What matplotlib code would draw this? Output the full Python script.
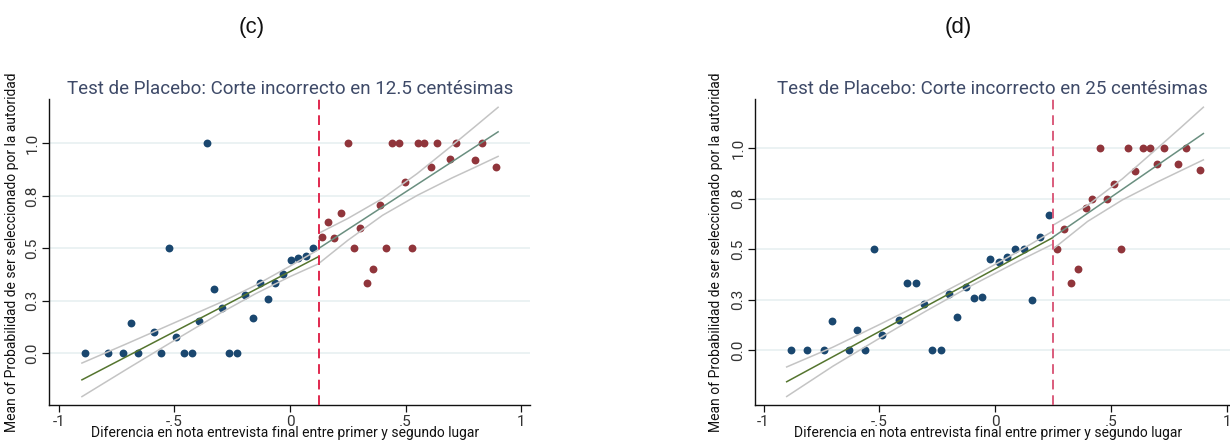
import numpy as np
import matplotlib
matplotlib.use("Agg")
import matplotlib.pyplot as plt

# Binned means, panel (c): placebo cutoff at 0.125
c_cut = 0.125
c_left_x = [-0.886, -0.789, -0.722, -0.689, -0.656, -0.589, -0.558, -0.523, -0.491, -0.460,
            -0.425, -0.393, -0.360, -0.327, -0.294, -0.262, -0.228, -0.195, -0.161, -0.128,
            -0.096, -0.063, -0.030, 0.003, 0.036, 0.069, 0.101]
c_left_y = [0.0, 0.0, 0.0, 0.143, 0.0, 0.100, 0.0, 0.5, 0.079, 0.0,
            0.0, 0.153, 1.0, 0.308, 0.216, 0.0, 0.0, 0.275, 0.167, 0.334,
            0.258, 0.334, 0.377, 0.445, 0.456, 0.461, 0.5]
c_right_x = [0.137, 0.166, 0.192, 0.220, 0.249, 0.275, 0.304, 0.332, 0.359, 0.388,
             0.415, 0.442, 0.470, 0.499, 0.526, 0.552, 0.581, 0.608, 0.635, 0.692,
             0.719, 0.802, 0.829, 0.889]
c_right_y = [0.556, 0.625, 0.550, 0.668, 1.0, 0.5, 0.599, 0.334, 0.401, 0.706,
             0.5, 1.0, 1.0, 0.814, 0.5, 1.0, 1.0, 0.886, 1.0, 0.925,
             1.0, 0.922, 1.0, 0.889]

# linear fits and 95% CI, panel (c)
c_fitL_x = [-0.9, 0.125]
c_fitL_y = [-0.127, 0.461]
c_ciL_x = [-0.9, -0.7, -0.5, -0.3, -0.15, 0.0, 0.125]
c_ciL_hi = [-0.047, 0.048, 0.145, 0.242, 0.323, 0.415, 0.495]
c_ciL_lo = [-0.207, -0.072, 0.061, 0.192, 0.283, 0.365, 0.427]
c_fitR_x = [0.125, 0.9]
c_fitR_y = [0.500, 1.055]
c_ciR_x = [0.125, 0.25, 0.4, 0.55, 0.7, 0.8, 0.9]
c_ciR_hi = [0.572, 0.642, 0.737, 0.856, 0.989, 1.080, 1.172]
c_ciR_lo = [0.428, 0.538, 0.657, 0.752, 0.835, 0.886, 0.938]

# Binned means, panel (d): placebo cutoff at 0.25
d_cut = 0.25
d_left_x = [-0.883, -0.811, -0.739, -0.704, -0.631, -0.596, -0.560, -0.524, -0.488, -0.416,
            -0.380, -0.343, -0.307, -0.271, -0.235, -0.199, -0.163, -0.127, -0.091, -0.055,
            -0.020, 0.016, 0.052, 0.088, 0.124, 0.160, 0.196, 0.232]
d_left_y = [0.0, 0.0, 0.0, 0.143, 0.0, 0.100, 0.0, 0.5, 0.077, 0.150,
            0.333, 0.333, 0.228, 0.0, 0.0, 0.277, 0.167, 0.312, 0.257, 0.266,
            0.453, 0.437, 0.460, 0.5, 0.5, 0.249, 0.559, 0.667]
d_right_x = [0.267, 0.297, 0.328, 0.359, 0.391, 0.421, 0.452, 0.483, 0.514, 0.545,
             0.576, 0.606, 0.638, 0.668, 0.700, 0.730, 0.792, 0.824, 0.884]
d_right_y = [0.5, 0.600, 0.333, 0.401, 0.704, 0.750, 1.0, 0.750, 0.823, 0.5,
             1.0, 0.888, 1.0, 1.0, 0.921, 1.0, 0.922, 1.0, 0.889]

d_fitL_x = [-0.9, 0.25]
d_fitL_y = [-0.155, 0.557]
d_ciL_x = [-0.9, -0.7, -0.5, -0.3, -0.1, 0.1, 0.25]
d_ciL_hi = [-0.082, 0.016, 0.127, 0.241, 0.361, 0.488, 0.589]
d_ciL_lo = [-0.228, -0.078, 0.059, 0.193, 0.321, 0.440, 0.525]
d_fitR_x = [0.25, 0.9]
d_fitR_y = [0.559, 1.071]
d_ciR_x = [0.25, 0.4, 0.55, 0.7, 0.8, 0.9]
d_ciR_hi = [0.618, 0.717, 0.847, 0.997, 1.098, 1.201]
d_ciR_lo = [0.500, 0.637, 0.743, 0.831, 0.886, 0.941]

xticks = [-1, -0.5, 0, 0.5, 1]
xtick_labels = ["-1", "-.5", "0", ".5", "1"]
yticks = [0, 0.25, 0.5, 0.75, 1.0]
ytick_labels = ["0.0", "0.3", "0.5", "0.8", "1.0"]

titles = ["Test de Placebo: Corte incorrecto en 12.5 centésimas",
          "Test de Placebo: Corte incorrecto en 25 centésimas"]
panel_tags = ["(c)", "(d)"]
xlab = "Diferencia en nota entrevista final entre primer y segundo lugar"
ylab = "Mean of Probabilidad de ser seleccionado por la autoridad"

blue = "#1a476f"
red = "#90353b"
fit_left_col = "#55752f"
fit_right_col = "#6a8f80"
ci_col = "#c4c4c4"
title_col = "#3e4a68"

plt.rcParams['font.family'] = ['Roboto', 'DejaVu Sans']
plt.rcParams['font.weight'] = 'light'

fig = plt.figure(figsize=(12.3, 4.41), dpi=100)

panels = [
    dict(pos=[0.0401, 0.0816, 0.3908, 0.6932], xlim=(-1.041, 1.038), ylim=(-0.247, 1.21),
         cut=c_cut, lx=c_left_x, ly=c_left_y, rx=c_right_x, ry=c_right_y,
         fLx=c_fitL_x, fLy=c_fitL_y, cLx=c_ciL_x, cLhi=c_ciL_hi, cLlo=c_ciL_lo,
         fRx=c_fitR_x, fRy=c_fitR_y, cRx=c_ciR_x, cRhi=c_ciR_hi, cRlo=c_ciR_lo,
         cutcol="#e0284e", tagx=252, ylx=-0.063),
    dict(pos=[0.6138, 0.0816, 0.3862, 0.6932], xlim=(-1.037, 1.015), ylim=(-0.27, 1.24),
         cut=d_cut, lx=d_left_x, ly=d_left_y, rx=d_right_x, ry=d_right_y,
         fLx=d_fitL_x, fLy=d_fitL_y, cLx=d_ciL_x, cLhi=d_ciL_hi, cLlo=d_ciL_lo,
         fRx=d_fitR_x, fRy=d_fitR_y, cRx=d_ciR_x, cRhi=d_ciR_hi, cRlo=d_ciR_lo,
         cutcol="#db5c7c", tagx=958, ylx=-0.067),
]

for i, p in enumerate(panels):
    ax = fig.add_axes(p["pos"])
    ax.set_xlim(*p["xlim"])
    ax.set_ylim(*p["ylim"])

    # horizontal grid only
    for yt in yticks:
        ax.axhline(yt, color="#e8f0f1", lw=1.2, zorder=0)

    ax.scatter(p["lx"], p["ly"], s=32, color=blue, linewidths=0, zorder=2)
    ax.scatter(p["rx"], p["ry"], s=32, color=red, linewidths=0, zorder=2)

    # CI bands and fits drawn over the markers
    ax.plot(p["cLx"], p["cLhi"], color=ci_col, lw=1.1, zorder=3)
    ax.plot(p["cLx"], p["cLlo"], color=ci_col, lw=1.1, zorder=3)
    ax.plot(p["cRx"], p["cRhi"], color=ci_col, lw=1.1, zorder=3)
    ax.plot(p["cRx"], p["cRlo"], color=ci_col, lw=1.1, zorder=3)
    ax.plot(p["fLx"], p["fLy"], color=fit_left_col, lw=1.1, zorder=4)
    ax.plot(p["fRx"], p["fRy"], color=fit_right_col, lw=1.1, zorder=4)

    ax.axvline(p["cut"], color=p["cutcol"], lw=1.4, dashes=(5, 3), zorder=5)

    for side in ["top", "right"]:
        ax.spines[side].set_visible(False)
    for side in ["left", "bottom"]:
        ax.spines[side].set_color("#111111")
        ax.spines[side].set_linewidth(1.0)

    ax.set_xticks(xticks)
    ax.set_xticklabels(xtick_labels)
    ax.set_yticks(yticks)
    ax.set_yticklabels(ytick_labels, rotation=90, va="center")
    ax.tick_params(axis="both", direction="out", length=5, width=0.9,
                   colors="#111111", labelsize=11, pad=2)
    for lab in ax.get_xticklabels() + ax.get_yticklabels():
        lab.set_fontweight("normal")
        lab.set_color("#333333")

    ax.set_xlabel(xlab, fontsize=10, color="#111111")
    ax.xaxis.set_label_coords(0.49, -0.07)
    ax.set_ylabel(ylab, fontsize=10, color="#111111")
    ax.yaxis.set_label_coords(p["ylx"], 0.5)

    ax.set_title(titles[i], fontsize=13.5, color=title_col, pad=4)

    fig.text(p["tagx"] / 1230, 1 - 27 / 441, panel_tags[i], fontsize=16,
             family="Liberation Sans", weight="normal", color="#111111",
             ha="center", va="center")

fig.savefig("out.png", dpi=100)
